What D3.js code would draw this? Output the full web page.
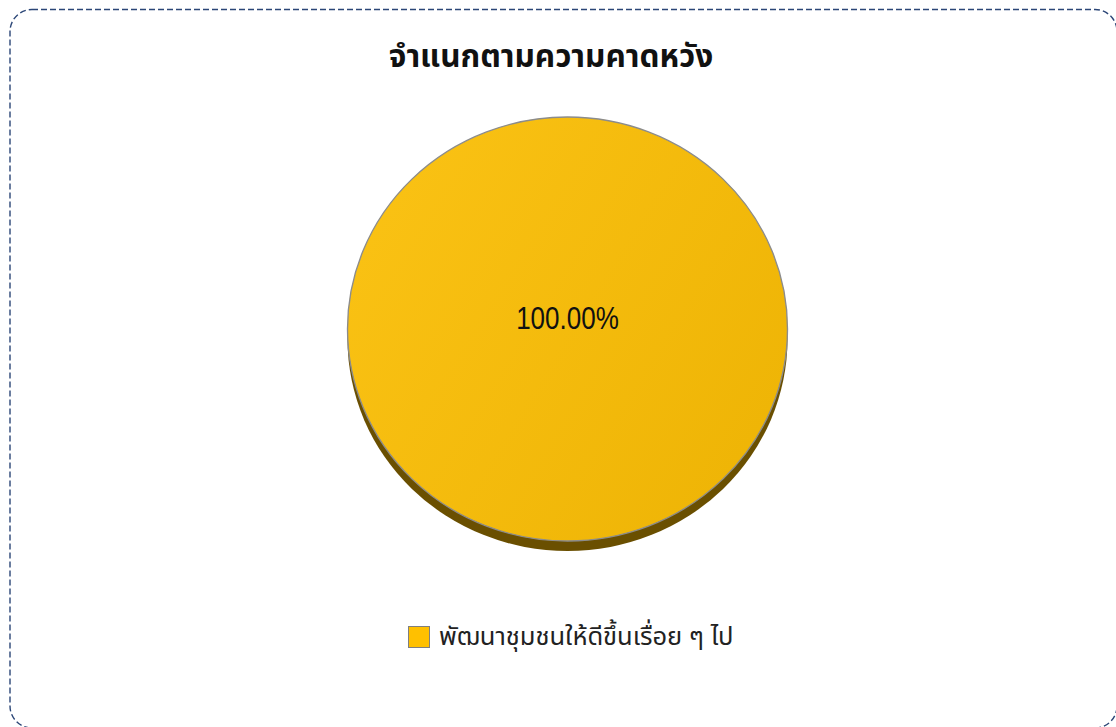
<!DOCTYPE html>
<html>
<head>
<meta charset="utf-8">
<script src="https://cdn.jsdelivr.net/npm/d3@7"></script>
<style>
  html, body { margin: 0; padding: 0; background: #fff; }
  svg { display: block; }
</style>
</head>
<body>
<svg id="chart" width="1116" height="727"></svg>
<script>
// Chart data
const title = "จำแนกตามความคาดหวัง";
const categories = ["พัฒนาชุมชนให้ดีขึ้นเรื่อย ๆ ไป"];
const values = [100];
const colors = ["#FFC000"];

const W = 1116, H = 727;
const svg = d3.select("#chart");
const defs = svg.append("defs");

// Outer dashed frame
svg.append("rect")
  .attr("x", 10).attr("y", 9.5)
  .attr("width", 1107).attr("height", 718.5)
  .attr("rx", 22).attr("ry", 22)
  .attr("fill", "none")
  .attr("stroke", "#2B4677")
  .attr("stroke-width", 1.4)
  .attr("stroke-dasharray", "6,3");

// Title
svg.append("text")
  .attr("x", 551).attr("y", 67)
  .attr("text-anchor", "middle")
  .attr("font-family", "Tahoma, 'Noto Sans Thai', 'DejaVu Sans', sans-serif")
  .attr("font-weight", "bold")
  .attr("font-size", 31.5)
  .attr("fill", "#111")
  .text(title);

// Tilted pie geometry
const cx = 567.5, cy = 329, rx = 220, ry = 212, depth = 10;
const total = d3.sum(values);
const pie = d3.pie().sort(null).value(d => d)(values);

// Face gradient, lighter on the left
const grad = defs.append("linearGradient")
  .attr("id", "face").attr("x1", "0%").attr("y1", "20%").attr("x2", "100%").attr("y2", "80%");
grad.append("stop").attr("offset", "0%").attr("stop-color", "#FAC214");
grad.append("stop").attr("offset", "100%").attr("stop-color", "#EEB405");

const arc = d3.arc().innerRadius(0).outerRadius(1);

const pieG = svg.append("g");
pie.forEach((p, i) => {
  // side wall of the disc
  pieG.append("ellipse")
    .attr("cx", cx).attr("cy", cy + depth)
    .attr("rx", rx).attr("ry", ry)
    .attr("fill", "#6A4F00");
  // top face, drawn with d3.arc then scaled into an ellipse
  pieG.append("path")
    .attr("d", arc(p))
    .attr("transform", `translate(${cx},${cy}) scale(${rx},${ry})`)
    .attr("fill", "url(#face)")
    .attr("stroke", "#8C8C8C")
    .attr("stroke-width", 1.3 / ry);
  // value label, condensed
  const pct = (p.value / total * 100).toFixed(2) + "%";
  pieG.append("text")
    .attr("transform", `translate(${cx},329) scale(0.84,1)`)
    .attr("text-anchor", "middle")
    .attr("font-family", "'Liberation Sans', Arial, sans-serif")
    .attr("font-size", 31)
    .attr("fill", "#111")
    .text(pct);
});

// Legend
const legend = svg.append("g");
categories.forEach((c, i) => {
  legend.append("rect")
    .attr("x", 408.5).attr("y", 626.5)
    .attr("width", 21).attr("height", 21)
    .attr("fill", colors[i])
    .attr("stroke", "#7F7F7F")
    .attr("stroke-width", 1);
  legend.append("text")
    .attr("x", 439).attr("y", 645)
    .attr("font-family", "Tahoma, 'Noto Sans Thai', 'DejaVu Sans', sans-serif")
    .attr("font-size", 25.5)
    .attr("fill", "#222")
    .text(c);
});
</script>
</body>
</html>
